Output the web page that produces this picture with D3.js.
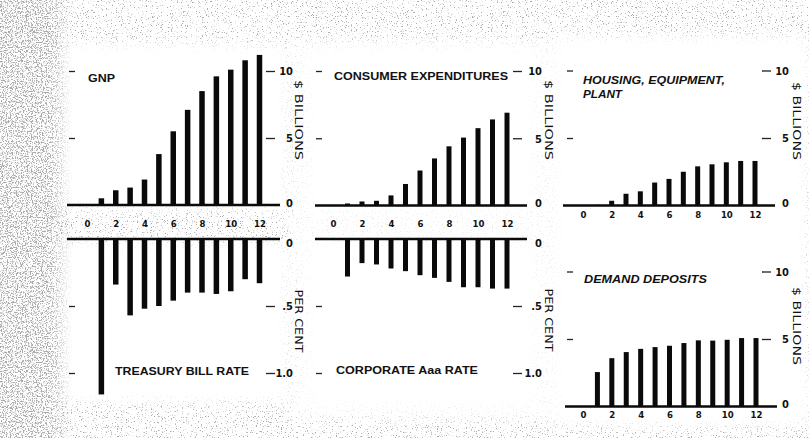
<!DOCTYPE html>
<html>
<head>
<meta charset="utf-8">
<script src="https://cdn.jsdelivr.net/npm/d3@7"></script>
<style>
  html, body { margin: 0; padding: 0; background: #fff; }
  svg { display: block; }
  text { font-family: "Liberation Sans", Arial, sans-serif; font-weight: bold; fill: #111; }
</style>
</head>
<body>
<svg id="chart" width="809" height="438"></svg>
<script>
// ---------------- data ----------------
const periods   = [1, 2, 3, 4, 5, 6, 7, 8, 9, 10, 11, 12];
const xTicks    = [0, 2, 4, 6, 8, 10, 12];
const billionTicks = [0, 5, 10];
const percentTicks = [0, 0.5, 1.0];
const percentLabels = ["0", ".5", "1.0"];

const gnp       = [0.5, 1.1, 1.3, 1.9, 3.8, 5.5, 7.1, 8.5, 9.6, 10.1, 10.8, 11.2];
const consumer  = [0.15, 0.3, 0.35, 0.75, 1.6, 2.6, 3.5, 4.4, 5.05, 5.75, 6.4, 6.9];
const housing   = [0.05, 0.35, 0.87, 1.05, 1.7, 1.97, 2.5, 2.9, 3.05, 3.2, 3.3, 3.3];
const demand    = [2.55, 3.58, 4.03, 4.27, 4.4, 4.5, 4.7, 4.9, 4.88, 4.94, 5.07, 5.07];
const tbill     = [1.16, 0.34, 0.57, 0.52, 0.50, 0.46, 0.40, 0.40, 0.41, 0.39, 0.30, 0.33];
const aaa       = [0.28, 0.18, 0.19, 0.22, 0.24, 0.27, 0.29, 0.32, 0.36, 0.36, 0.37, 0.37];

// ---------------- background texture ----------------
const svg = d3.select("#chart");
const defs = svg.append("defs");

function speckFilter(id, seed, k, c, gray) {
  const f = defs.append("filter").attr("id", id)
    .attr("filterUnits", "userSpaceOnUse")
    .attr("x", 0).attr("y", 0).attr("width", 809).attr("height", 438);
  f.append("feTurbulence").attr("type", "fractalNoise")
    .attr("baseFrequency", 0.8).attr("numOctaves", 2).attr("seed", seed).attr("result", "t");
  f.append("feColorMatrix").attr("in", "t").attr("type", "matrix")
    .attr("values", `0 0 0 0 ${gray} 0 0 0 0 ${gray} 0 0 0 0 ${gray} ${k} 0 0 0 ${-c}`);
}
speckFilter("speckLight", 3, 8, 4.95, 0.4);
speckFilter("speckDense", 11, 7, 3.6, 0.4);

defs.append("filter").attr("id", "blurM").append("feGaussianBlur").attr("stdDeviation", 6);

const mLight = defs.append("mask").attr("id", "maskLight")
  .attr("maskUnits", "userSpaceOnUse").attr("x", 0).attr("y", 0).attr("width", 809).attr("height", 438);
mLight.append("rect").attr("width", 809).attr("height", 438).attr("fill", "#fff");
const holes = mLight.append("g").attr("filter", "url(#blurM)");
holes.append("rect").attr("x", 290).attr("y", 40).attr("width", 519).attr("height", 380).attr("fill", "#3a3a3a");
[[60, 44, 226, 165], [60, 242, 226, 160], [308, 46, 228, 163], [308, 242, 228, 165], [556, 36, 250, 390]]
  .forEach(r => holes.append("rect").attr("x", r[0]).attr("y", r[1]).attr("width", r[2]).attr("height", r[3]).attr("fill", "#000"));

const grad = defs.append("linearGradient").attr("id", "leftGrad").attr("x1", 0).attr("x2", 1).attr("y1", 0).attr("y2", 0);
grad.append("stop").attr("offset", "0%").attr("stop-color", "#fff");
grad.append("stop").attr("offset", "6%").attr("stop-color", "#fff");
grad.append("stop").attr("offset", "9%").attr("stop-color", "#000");
grad.append("stop").attr("offset", "100%").attr("stop-color", "#000");
const mDense = defs.append("mask").attr("id", "maskDense")
  .attr("maskUnits", "userSpaceOnUse").attr("x", 0).attr("y", 0).attr("width", 809).attr("height", 438);
mDense.append("rect").attr("width", 809).attr("height", 438).attr("fill", "url(#leftGrad)");

svg.append("rect").attr("width", 809).attr("height", 438).attr("fill", "#fff");
svg.append("rect").attr("width", 809).attr("height", 438).attr("fill", "#fff")
  .attr("filter", "url(#speckLight)").attr("mask", "url(#maskLight)");
svg.append("rect").attr("width", 809).attr("height", 438).attr("fill", "#fff")
  .attr("filter", "url(#speckDense)").attr("mask", "url(#maskDense)");

// ---------------- panels ----------------
const g = svg.append("g");

function drawBars(xs, ys, values, y0, barW) {
  g.append("g").selectAll("rect").data(values).join("rect")
    .attr("x", (d, i) => xs(periods[i]) - barW / 2)
    .attr("width", barW)
    .attr("y", d => Math.min(ys(d), y0))
    .attr("height", d => Math.abs(ys(d) - y0))
    .attr("fill", "#0a0a0a");
}

function baseline(x1, x2, y) {
  g.append("line").attr("x1", x1).attr("x2", x2).attr("y1", y).attr("y2", y)
    .attr("stroke", "#0a0a0a").attr("stroke-width", 2.6);
}

function yAxes(ys, ticks, labels, leftX, rightX, labelEnd, labelZero) {
  const la = g.append("g").attr("transform", `translate(${leftX},0)`)
    .call(d3.axisLeft(ys).tickValues(ticks.filter(t => t !== 0)).tickSize(6).tickFormat(""));
  la.select(".domain").remove();
  la.selectAll("line").attr("stroke", "#222").attr("stroke-width", 1.3);
  const ra = g.append("g").attr("transform", `translate(${rightX},0)`)
    .call(d3.axisRight(ys).tickValues(ticks).tickSize(9)
      .tickFormat((d, i) => labels[i]));
  ra.select(".domain").remove();
  ra.selectAll(".tick line").attr("stroke", "#222").attr("stroke-width", 1.3)
    .attr("display", d => d === 0 ? "none" : null);
  ra.selectAll(".tick text")
    .attr("x", labelEnd - rightX).attr("text-anchor", "end")
    .attr("dy", d => d === 0 ? (labelZero || "0.1em") : "0.35em")
    .style("font-size", "11px").style("font-family", "'DejaVu Sans Condensed', 'DejaVu Sans', sans-serif")
    .style("font-weight", "bold").attr("fill", "#111");
}

function xAxis(xs, yc) {
  const a = g.append("g").attr("transform", `translate(0,${yc})`)
    .call(d3.axisBottom(xs).tickValues(xTicks).tickSize(0).tickPadding(0));
  a.select(".domain").remove();
  a.selectAll("text").attr("y", 0).attr("dy", "0.35em")
    .style("font-size", "9.5px").style("font-family", "'DejaVu Sans Condensed', 'DejaVu Sans', sans-serif")
    .style("font-weight", "bold").attr("fill", "#111");
}

function title(lines, x, y, w, italic, lh) {
  lines.forEach((t, i) => {
    g.append("text").attr("x", x).attr("y", y + i * (lh || 14))
      .attr("textLength", w[i]).attr("lengthAdjust", "spacingAndGlyphs")
      .style("font-size", "11.5px").style("font-style", italic ? "italic" : "normal")
      .text(t);
  });
}

function sideLabel(t, x, y, len) {
  g.append("text").attr("transform", `translate(${x},${y}) rotate(90)`)
    .attr("text-anchor", "middle").attr("dy", "0.35em")
    .attr("textLength", len).attr("lengthAdjust", "spacingAndGlyphs")
    .style("font-size", "10px").style("font-weight", "normal")
    .style("font-family", "'DejaVu Sans Condensed', 'DejaVu Sans', sans-serif")
    .attr("fill", "#333").text(t);
}

// Panel 1: GNP / Treasury bill rate
{
  const xs = d3.scaleLinear().domain([0, 12]).range([87, 259.5]);
  const yTop = d3.scaleLinear().domain([0, 10]).range([205, 71]);
  const yBot = d3.scaleLinear().domain([0, 1]).range([239, 373]);
  drawBars(xs, yTop, gnp, 205, 5.5);
  drawBars(xs, yBot, tbill, 239, 5.5);
  baseline(67, 280, 205);
  baseline(67, 280, 239);
  yAxes(yTop, billionTicks, billionTicks.map(String), 75, 266, 293);
  yAxes(yBot, percentTicks, percentLabels, 75, 266, 293, "0.7em");
  xAxis(xs, 224);
  title(["GNP"], 88, 82, [27]);
  title(["TREASURY BILL RATE"], 115, 375, [134]);
  sideLabel("$ BILLIONS", 298, 120, 80);
  sideLabel("PER CENT", 298, 321, 63);
}

// Panel 2: Consumer expenditures / Corporate Aaa rate
{
  const xs = d3.scaleLinear().domain([0, 12]).range([333, 507]);
  const yTop = d3.scaleLinear().domain([0, 10]).range([205.5, 71]);
  const yBot = d3.scaleLinear().domain([0, 1]).range([239, 373]);
  drawBars(xs, yTop, consumer, 205.5, 5);
  drawBars(xs, yBot, aaa, 239, 5);
  baseline(315, 527, 205.5);
  baseline(315, 527, 239);
  yAxes(yTop, billionTicks, billionTicks.map(String), 322, 513, 542);
  yAxes(yBot, percentTicks, percentLabels, 322, 513, 542, "0.7em");
  xAxis(xs, 224);
  title(["CONSUMER EXPENDITURES"], 334, 80, [174]);
  title(["CORPORATE Aaa RATE"], 336, 374, [142]);
  sideLabel("$ BILLIONS", 548, 120, 80);
  sideLabel("PER CENT", 548, 320, 63);
}

// Panel 3: Housing, equipment, plant
{
  const xs = d3.scaleLinear().domain([0, 12]).range([583, 755]);
  const ys = d3.scaleLinear().domain([0, 10]).range([205.5, 70.5]);
  drawBars(xs, ys, housing, 205.5, 5);
  baseline(563, 775, 205.5);
  yAxes(ys, billionTicks, billionTicks.map(String), 573, 762, 789);
  xAxis(xs, 215);
  title(["HOUSING, EQUIPMENT,", "PLANT"], 583, 84, [142, 39], true, 14);
  sideLabel("$ BILLIONS", 796, 121, 78);
}

// Panel 4: Demand deposits
{
  const xs = d3.scaleLinear().domain([0, 12]).range([583, 756]);
  const ys = d3.scaleLinear().domain([0, 10]).range([406.5, 271.5]);
  drawBars(xs, ys, demand, 406.5, 5);
  baseline(565, 777, 406.5);
  yAxes(ys, billionTicks, billionTicks.map(String), 573, 762, 789);
  xAxis(xs, 415);
  title(["DEMAND DEPOSITS"], 584, 283, [123], true);
  sideLabel("$ BILLIONS", 796, 326, 78);
}
</script>
</body>
</html>
